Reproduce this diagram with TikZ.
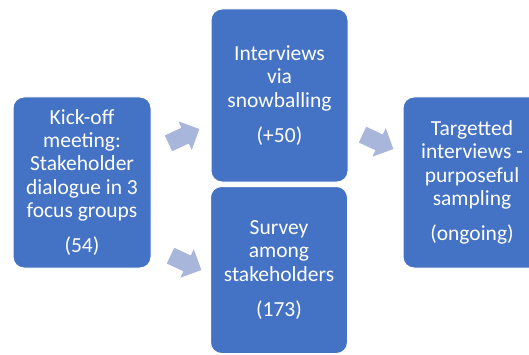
\documentclass[tikz,border=0pt]{standalone}
\usepackage{fontspec}
\setmainfont{Carlito}
\usetikzlibrary{shapes.arrows}
\definecolor{boxblue}{HTML}{4472C4}
\definecolor{arrowblue}{HTML}{A9B6DB}
\tikzset{
  stagebox/.style={rectangle, rounded corners=11pt, fill=boxblue, draw=white, line width=1pt,
    text=white, align=center, inner sep=0pt,
    font=\fontsize{21.5pt}{23.3pt}\selectfont},
  blockarrow/.style={single arrow, fill=arrowblue, draw=none, inner sep=0pt,
    minimum height=34pt, single arrow head extend=7pt,
    single arrow tip angle=90}
}
\begin{document}
\begin{tikzpicture}[x=1pt,y=1pt]
\useasboundingbox (0,0) rectangle (529,354);
\clip (0,0) rectangle (529,354);
\fill[white] (0,0) rectangle (529,354);
\node[stagebox, minimum width=138pt, minimum height=171pt] (b1) at (82,171.5)
  {Kick-off\\meeting:\\Stakeholder\\dialogue in 3\\focus groups\\[12pt](54)};
\node[stagebox, minimum width=137pt, minimum height=173pt] (b2) at (279.5,258.5)
  {Interviews\\via\\snowballing\\[12pt](+50)};
\node[stagebox, minimum width=137pt, minimum height=167pt] (b3) at (279,84)
  {Survey\\among\\stakeholders\\[12pt](173)};
\node[stagebox, minimum width=138pt, minimum height=171pt] (b4) at (472,171.5)
  {Targetted\\interviews -\\purposeful\\sampling\\[12pt](ongoing)};
\node[blockarrow, rotate=25] (a1) at (180,216) {\rule{0pt}{17pt}};
\node[blockarrow, rotate=-25] (a2) at (182,93) {\rule{0pt}{17pt}};
\node[blockarrow, rotate=-25] (a3) at (374,214) {\rule{0pt}{17pt}};
\end{tikzpicture}
\end{document}
